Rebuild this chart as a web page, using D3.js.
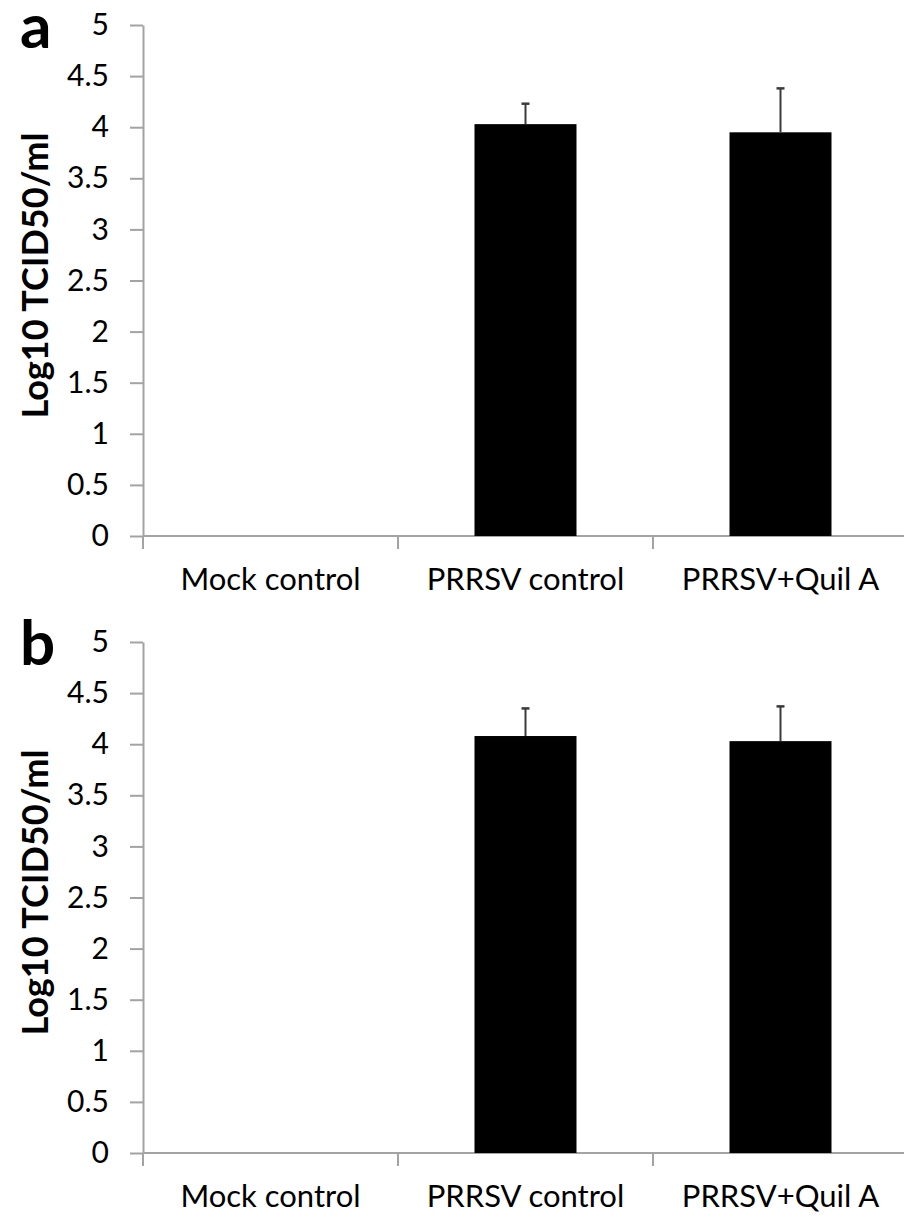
<!DOCTYPE html>
<html>
<head>
<meta charset="utf-8">
<script src="https://cdn.jsdelivr.net/npm/d3@7"></script>
<style>
  html, body { margin: 0; padding: 0; background: #fff; }
  svg { display: block; }
  text { font-family: Lato, "Open Sans", sans-serif; fill: #000; }
</style>
</head>
<body>
<svg id="chart" width="904" height="1218"></svg>
<script>
// Virus titres (Log10 TCID50/ml) per treatment group, two panels
const categories = ["Mock control", "PRRSV control", "PRRSV+Quil A"];
const panelLetters = ["a", "b"];
const meansA = [0, 4.03, 3.95];
const errorsA = [0, 0.20, 0.43];
const meansB = [0, 4.08, 4.03];
const errorsB = [0, 0.27, 0.34];
const yTickValues = [0, 0.5, 1, 1.5, 2, 2.5, 3, 3.5, 4, 4.5, 5];
const yTickLabels = ["0", "0.5", "1", "1.5", "2", "2.5", "3", "3.5", "4", "4.5", "5"];
const yTitle = "Log10 TCID50/ml";

const panels = [
  { letter: panelLetters[0], means: meansA, errors: errorsA, top: 25 },
  { letter: panelLetters[1], means: meansB, errors: errorsB, top: 642 }
];

const svg = d3.select("#chart");
const plotLeft = 143, plotRight = 908, plotHeight = 511;
const axisColor = "#a3a3a3";

const x = d3.scaleBand()
  .domain(categories)
  .range([plotLeft, plotRight])
  .paddingInner(0.6)
  .paddingOuter(0.3);

panels.forEach(p => {
  const g = svg.append("g");
  const y = d3.scaleLinear().domain([0, 5]).range([p.top + plotHeight, p.top]);

  // value axis
  const yAxis = g.append("g")
    .attr("transform", `translate(${plotLeft},0)`)
    .call(d3.axisLeft(y)
      .tickValues(yTickValues)
      .tickFormat((d, i) => yTickLabels[i])
      .tickSize(13)
      .tickSizeOuter(0)
      .tickPadding(21));
  yAxis.selectAll("path, line").attr("stroke", axisColor).attr("stroke-width", 2);
  yAxis.selectAll("text").attr("font-size", 30).attr("fill", "#000");

  // category axis with separators between groups
  const base = y(0);
  g.append("line")
    .attr("x1", plotLeft).attr("x2", plotRight)
    .attr("y1", base).attr("y2", base)
    .attr("stroke", axisColor).attr("stroke-width", 2);
  const bounds = categories.map(c => x(c) + x.bandwidth() / 2 - x.step() / 2);
  bounds.push(bounds[bounds.length - 1] + x.step());
  g.selectAll(".sep").data(bounds).join("line")
    .attr("x1", d => d).attr("x2", d => d)
    .attr("y1", base).attr("y2", base + 13)
    .attr("stroke", axisColor).attr("stroke-width", 2);
  g.selectAll(".cat").data(categories).join("text")
    .attr("x", d => x(d) + x.bandwidth() / 2)
    .attr("y", base + 54)
    .attr("text-anchor", "middle")
    .attr("font-size", 31)
    .text(d => d);

  // bars
  const rows = categories.map((c, i) => ({ c, v: p.means[i], e: p.errors[i] }));
  g.selectAll(".bar").data(rows.filter(r => r.v > 0)).join("rect")
    .attr("x", d => x(d.c))
    .attr("width", x.bandwidth())
    .attr("y", d => y(d.v))
    .attr("height", d => base - y(d.v))
    .attr("fill", "#000");

  // upper error bars
  const eb = g.selectAll(".err").data(rows.filter(r => r.e > 0)).join("g");
  eb.append("line")
    .attr("x1", d => x(d.c) + x.bandwidth() / 2)
    .attr("x2", d => x(d.c) + x.bandwidth() / 2)
    .attr("y1", d => y(d.v))
    .attr("y2", d => y(d.v + d.e))
    .attr("stroke", "#3a3a3a").attr("stroke-width", 2);
  eb.append("line")
    .attr("x1", d => x(d.c) + x.bandwidth() / 2 - 4)
    .attr("x2", d => x(d.c) + x.bandwidth() / 2 + 4)
    .attr("y1", d => y(d.v + d.e))
    .attr("y2", d => y(d.v + d.e))
    .attr("stroke", "#3a3a3a").attr("stroke-width", 2.5);

  // axis title
  const midY = (y(0) + y(5)) / 2 - 5;
  g.append("text")
    .attr("transform", `translate(48,${midY}) rotate(-90)`)
    .attr("text-anchor", "middle")
    .attr("font-size", 36)
    .attr("font-weight", "bold")
    .text(yTitle);

  // panel letter
  g.append("text")
    .attr("x", 20)
    .attr("y", p.top + 23)
    .attr("font-size", 62)
    .attr("font-weight", "bold")
    .text(p.letter);
});
</script>
</body>
</html>
